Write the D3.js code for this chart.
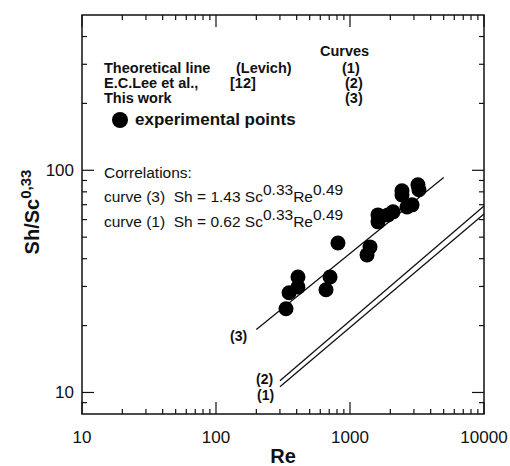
<!DOCTYPE html>
<html>
<head>
<meta charset="utf-8">
<script src="https://cdn.jsdelivr.net/npm/d3@7"></script>
<style>
  body { margin: 0; background: #fff; }
  text { font-family: "Liberation Sans", Arial, sans-serif; fill: #111; white-space: pre; }
</style>
</head>
<body>
<div id="chart"></div>
<script>
// experimental points (Re, Sh/Sc^0.33)
var reValues = [333, 351, 409, 409, 662, 710, 813, 1340, 1410, 1618, 1618, 1922, 2094, 2443, 2443, 2663, 2904, 3214, 3270];
var shValues = [23.8, 28.1, 29.8, 33.1, 29.0, 33.1, 47.1, 41.6, 45.2, 58.6, 63.0, 63.0, 65.0, 77.5, 80.8, 68.4, 69.9, 86.0, 81.7];

// correlation lines, end points [Re, Sh/Sc^0.33]
var curve1 = [[300, 10.6], [10000, 63.5]];
var curve2 = [[300, 11.3], [10000, 69]];
var curve3 = [[200, 19.2], [5000, 92.8]];

var xTicks = [10, 100, 1000, 10000];
var yTicks = [10, 100];

var width = 510, height = 466;
var pLeft = 82, pRight = 484, pTop = 15, pBottom = 414;

var svg = d3.select("#chart").append("svg")
  .attr("width", width)
  .attr("height", height);

var xScale = d3.scaleLog().domain([10, 10000]).range([pLeft, pRight]);
var yScale = d3.scaleLog().domain([8, 500]).range([pBottom, pTop]);

// minor ticks
var xMinor = [];
[10, 100, 1000].forEach(function(d) {
  for (var i = 2; i <= 9; i++) xMinor.push(d * i);
});
var yMinor = [9, 20, 30, 40, 50, 60, 70, 80, 90, 200, 300, 400];

function tickLines(sel, vals, len, horiz, pos, dir) {
  sel.selectAll(null).data(vals).enter().append("line")
    .attr("x1", function(d) { return horiz ? xScale(d) : pos; })
    .attr("x2", function(d) { return horiz ? xScale(d) : pos + dir * len; })
    .attr("y1", function(d) { return horiz ? pos : yScale(d); })
    .attr("y2", function(d) { return horiz ? pos + dir * len : yScale(d); })
    .attr("stroke", "#111")
    .attr("stroke-width", 1.2);
}

var ticks = svg.append("g");
tickLines(ticks, xTicks, 12, true, pBottom, -1);
tickLines(ticks, xMinor, 5, true, pBottom, -1);
tickLines(ticks, xTicks, 12, true, pTop, 1);
tickLines(ticks, xMinor, 5, true, pTop, 1);
tickLines(ticks, yTicks, 12, false, pLeft, 1);
tickLines(ticks, yMinor, 5, false, pLeft, 1);
tickLines(ticks, yTicks, 12, false, pRight, -1);
tickLines(ticks, yMinor, 5, false, pRight, -1);

// frame
svg.append("rect")
  .attr("x", pLeft).attr("y", pTop)
  .attr("width", pRight - pLeft).attr("height", pBottom - pTop)
  .attr("fill", "none").attr("stroke", "#111").attr("stroke-width", 1.5);

// tick labels
svg.selectAll(".xlab").data(xTicks).enter().append("text")
  .attr("x", function(d) { return xScale(d); })
  .attr("y", 443)
  .attr("text-anchor", "middle")
  .attr("font-size", 17)
  .text(function(d) { return d; });

svg.selectAll(".ylab").data(yTicks).enter().append("text")
  .attr("x", 74)
  .attr("y", function(d) { return yScale(d) + 6; })
  .attr("text-anchor", "end")
  .attr("font-size", 17)
  .text(function(d) { return d; });

// axis titles
svg.append("text")
  .attr("x", 283).attr("y", 463)
  .attr("text-anchor", "middle")
  .attr("font-size", 20).attr("font-weight", "bold")
  .text("Re");

var yt = svg.append("text")
  .attr("transform", "translate(39,212)rotate(-90)")
  .attr("text-anchor", "middle")
  .attr("font-size", 20).attr("font-weight", "bold");
yt.append("tspan").text("Sh/Sc");
yt.append("tspan").attr("dy", -8).attr("font-size", 15).text("0,33");

// curves
var line = d3.line()
  .x(function(d) { return xScale(d[0]); })
  .y(function(d) { return yScale(d[1]); });

[curve1, curve2, curve3].forEach(function(c) {
  svg.append("path")
    .attr("d", line(c))
    .attr("fill", "none")
    .attr("stroke", "#111")
    .attr("stroke-width", 1.3);
});

// points
svg.selectAll(".pt").data(reValues).enter().append("circle")
  .attr("cx", function(d) { return xScale(d); })
  .attr("cy", function(d, i) { return yScale(shValues[i]); })
  .attr("r", 7.5)
  .attr("fill", "#000");

// curve labels
function bold(x, y, s, size) {
  svg.append("text").attr("x", x).attr("y", y)
    .attr("font-size", size || 14.5).attr("font-weight", "bold").text(s);
}
bold(230, 341, "(3)", 14);
bold(256, 384, "(2)", 14);
bold(257, 400, "(1)", 14);

// legend
bold(320, 56, "Curves");
bold(104, 73, "Theoretical line");
bold(236, 73, "(Levich)");
bold(342, 73, "(1)");
bold(104, 88, "E.C.Lee et al.,");
bold(230, 88, "[12]");
bold(345, 88, "(2)");
bold(104, 103, "This work");
bold(345, 103, "(3)");
svg.append("circle").attr("cx", 120).attr("cy", 120).attr("r", 8).attr("fill", "#000");
bold(135, 125, "experimental points", 17);

// correlations
svg.append("text").attr("x", 104).attr("y", 178).attr("font-size", 15.5).text("Correlations:");
function corr(y, label, coef) {
  var t = svg.append("text").attr("x", 104).attr("y", y).attr("font-size", 15.5);
  t.append("tspan").text(label + "  Sh = " + coef + " Sc");
  t.append("tspan").attr("dy", -7).text("0.33");
  t.append("tspan").attr("dy", 7).text("Re");
  t.append("tspan").attr("dy", -7).text("0.49");
}
corr(202, "curve (3)", "1.43");
corr(227, "curve (1)", "0.62");
</script>
</body>
</html>
